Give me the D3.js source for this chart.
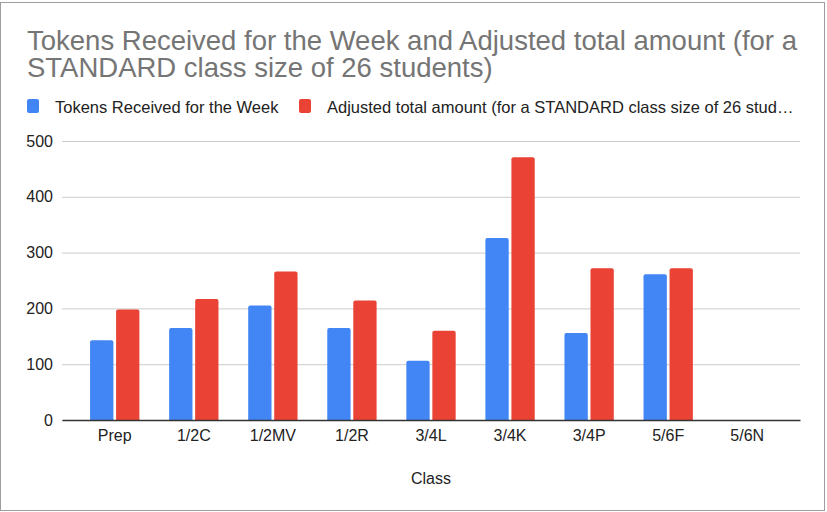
<!DOCTYPE html>
<html>
<head>
<meta charset="utf-8">
<script src="https://cdn.jsdelivr.net/npm/d3@7"></script>
<style>
  body { margin: 0; background: #fff; }
  svg { display: block; font-family: "Liberation Sans", Arial, sans-serif; }
</style>
</head>
<body>
<svg id="chart"></svg>
<script>
const classes = ['Prep', '1/2C', '1/2MV', '1/2R', '3/4L', '3/4K', '3/4P', '5/6F', '5/6N'];
const tokensReceived = [143, 165, 205, 165, 106, 326, 156, 261, null];
const adjustedTotal = [198, 217, 266, 214, 160, 471, 272, 272, null];
const seriesNames = ['Tokens Received for the Week', 'Adjusted total amount (for a STANDARD class size of 26 students)'];
const yTicks = [0, 100, 200, 300, 400, 500];

const COLORS = ['#4285F4', '#EA4335'];
const FONT = '"Liberation Sans", Arial, sans-serif';

const width = 827, height = 512;
const margin = { top: 141, right: 27, bottom: 92, left: 62 };

const svg = d3.select('#chart').attr('width', width).attr('height', height);

// chart frame
svg.append('rect')
  .attr('x', 0.5).attr('y', 2.5)
  .attr('width', 824).attr('height', 508)
  .attr('fill', '#fff')
  .attr('stroke', '#9e9e9e');

// title
const title = svg.append('text')
  .attr('fill', '#757575')
  .attr('font-size', 27.5);
title.append('tspan').attr('x', 27).attr('y', 50).text('Tokens Received for the Week and Adjusted total amount (for a');
title.append('tspan').attr('x', 27).attr('y', 76.5).text('STANDARD class size of 26 students)');

// legend
const legend = svg.append('g').attr('font-size', 16.5).attr('fill', '#222');
const legendItems = [
  { x: 27, label: seriesNames[0] },
  { x: 299, label: 'Adjusted total amount (for a STANDARD class size of 26 stud…' }
];
legendItems.forEach((item, i) => {
  legend.append('rect')
    .attr('x', item.x).attr('y', 99)
    .attr('width', 12).attr('height', 14)
    .attr('rx', 2)
    .attr('fill', COLORS[i]);
  legend.append('text')
    .attr('x', item.x + 28).attr('y', 112.5)
    .text(item.label);
});

const innerWidth = width - margin.left - margin.right;
const innerHeight = height - margin.top - margin.bottom;

const g = svg.append('g').attr('transform', `translate(${margin.left},${margin.top})`);

const x = d3.scaleBand().domain(classes).range([0, innerWidth]).paddingInner(0.376).paddingOuter(0.355);
const xSub = d3.scaleBand().domain([0, 1]).range([0, x.bandwidth()]).paddingInner(0.104);
const y = d3.scaleLinear().domain([0, 500]).range([innerHeight, 0]);

// gridlines + y labels
const yAxis = g.append('g')
  .call(d3.axisLeft(y).tickValues(yTicks).tickSize(-innerWidth).tickPadding(9));
yAxis.select('.domain').remove();
yAxis.selectAll('.tick line').attr('stroke', '#cccccc');
yAxis.selectAll('.tick text').attr('fill', '#222').attr('font-size', 16).attr('font-family', FONT);

// bars with rounded tops
function barPath(x0, y0, w, h, r) {
  r = Math.min(r, h, w / 2);
  return `M${x0},${y0 + h}V${y0 + r}Q${x0},${y0} ${x0 + r},${y0}H${x0 + w - r}Q${x0 + w},${y0} ${x0 + w},${y0 + r}V${y0 + h}Z`;
}

[tokensReceived, adjustedTotal].forEach((values, si) => {
  g.append('g').selectAll('path')
    .data(classes.map((c, i) => ({ c, v: values[i] })).filter(d => d.v != null))
    .join('path')
    .attr('fill', COLORS[si])
    .attr('d', d => barPath(x(d.c) + xSub(si), y(d.v), xSub.bandwidth(), innerHeight - y(d.v), 2));
});

// x axis
const xAxis = g.append('g')
  .attr('transform', `translate(0,${innerHeight})`)
  .call(d3.axisBottom(x).tickSize(0).tickPadding(10));
xAxis.select('.domain').attr('stroke', '#333').attr('stroke-width', 1.3);
xAxis.selectAll('.tick text').attr('fill', '#222').attr('font-size', 16).attr('font-family', FONT);

svg.append('text')
  .attr('x', margin.left + innerWidth / 2).attr('y', 484)
  .attr('text-anchor', 'middle')
  .attr('fill', '#222').attr('font-size', 16)
  .text('Class');
</script>
</body>
</html>
